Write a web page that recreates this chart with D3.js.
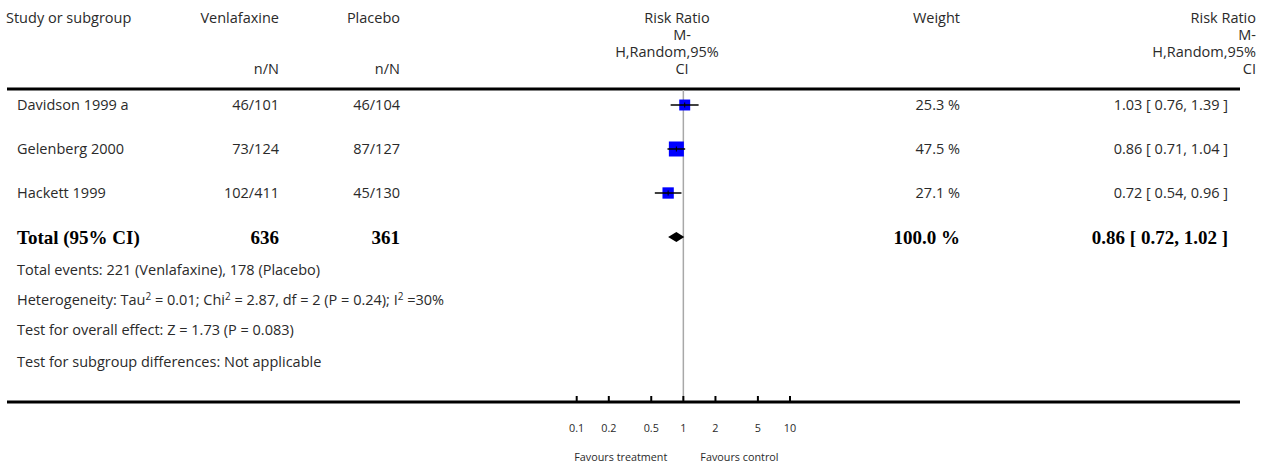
<!DOCTYPE html>
<html>
<head>
<meta charset="utf-8">
<script src="https://cdn.jsdelivr.net/npm/d3@7/dist/d3.min.js"></script>
<style>
  html, body { margin: 0; padding: 0; background: #fff; }
  svg { display: block; }
  .t { font-family: "Open Sans", Lato, sans-serif; font-size: 14.5px; fill: #2a2a2a; }
  .b { font-family: "Liberation Serif", "DejaVu Serif", serif; font-size: 19px; font-weight: bold; fill: #000; }
  .s { font-family: "Open Sans", Lato, sans-serif; font-size: 10.8px; fill: #2a2a2a; }
</style>
</head>
<body>
<script>
// Venlafaxine vs placebo: risk ratio forest plot (M-H, random effects)
const studies     = ["Davidson 1999 a", "Gelenberg 2000", "Hackett 1999"];
const treatEvents = [46, 73, 102];
const treatTotal  = [101, 124, 411];
const ctrlEvents  = [46, 87, 45];
const ctrlTotal   = [104, 127, 130];
const ratio       = [1.03, 0.86, 0.72];
const ciLow       = [0.76, 0.71, 0.54];
const ciHigh      = [1.39, 1.04, 0.96];
const weights     = [25.3, 47.5, 27.1];

const pooled      = { ratio: 0.86, low: 0.72, high: 1.02, weight: 100.0, treatN: 636, ctrlN: 361 };
const axisTicks   = [0.1, 0.2, 0.5, 1, 2, 5, 10];
const tickLabels  = ["0.1", "0.2", "0.5", "1", "2", "5", "10"];

const W = 1270, H = 472;
const svg = d3.select("body").append("svg").attr("width", W).attr("height", H);

// log scale for the ratio axis
const x = d3.scaleLog().domain([0.1, 10]).range([576.7, 790]);
// row positions
const rowY = d3.scalePoint().domain(d3.range(4)).range([105, 237]);
// square side proportional to sqrt(weight)
const side = d3.scaleSqrt().domain([0, 47.5]).range([0, 15]);

const colStudy = 17, colTreat = 279, colCtrl = 400, colWeight = 960, colRR = 1228;
const fmt2 = d3.format(".2f"), fmt1 = d3.format(".1f");

// ---- header ----
const hdr = svg.append("g").attr("class", "t");
hdr.append("text").attr("x", 6).attr("y", 23).text("Study or subgroup");
hdr.append("text").attr("x", colTreat).attr("y", 23).attr("text-anchor", "end").text("Venlafaxine");
hdr.append("text").attr("x", colCtrl).attr("y", 23).attr("text-anchor", "end").text("Placebo");
hdr.append("text").attr("x", colTreat).attr("y", 74).attr("text-anchor", "end").text("n/N");
hdr.append("text").attr("x", colCtrl).attr("y", 74).attr("text-anchor", "end").text("n/N");
const rrHead = ["Risk Ratio", "M-", "H,Random,95%", "CI"];
const rrShift = [0, 5, -10, 5];
rrHead.forEach((s, i) => {
  hdr.append("text").attr("x", 677 + rrShift[i]).attr("y", 23 + i * 17).attr("text-anchor", "middle").text(s);
  hdr.append("text").attr("x", 1256).attr("y", 23 + i * 17).attr("text-anchor", "end").text(s);
});
hdr.append("text").attr("x", colWeight).attr("y", 23).attr("text-anchor", "end").text("Weight");

// horizontal rules
svg.append("line").attr("x1", 7).attr("x2", 1240).attr("y1", 89).attr("y2", 89)
  .attr("stroke", "#000").attr("stroke-width", 3);
svg.append("line").attr("x1", 7).attr("x2", 1240).attr("y1", 402).attr("y2", 402)
  .attr("stroke", "#000").attr("stroke-width", 3);

// line of no effect
svg.append("line").attr("x1", x(1)).attr("x2", x(1)).attr("y1", 90).attr("y2", 400)
  .attr("stroke", "#a8a8a8").attr("stroke-width", 1.5);

// ---- study rows ----
const rows = svg.append("g").selectAll("g").data(studies).join("g")
  .attr("transform", (d, i) => `translate(0,${rowY(i)})`);

rows.append("text").attr("class", "t").attr("x", colStudy).attr("y", 5).text(d => d);
rows.append("text").attr("class", "t").attr("x", colTreat).attr("y", 5).attr("text-anchor", "end")
  .text((d, i) => `${treatEvents[i]}/${treatTotal[i]}`);
rows.append("text").attr("class", "t").attr("x", colCtrl).attr("y", 5).attr("text-anchor", "end")
  .text((d, i) => `${ctrlEvents[i]}/${ctrlTotal[i]}`);
rows.append("text").attr("class", "t").attr("x", colWeight).attr("y", 5).attr("text-anchor", "end")
  .text((d, i) => `${fmt1(weights[i])} %`);
rows.append("text").attr("class", "t").attr("x", colRR).attr("y", 5).attr("text-anchor", "end")
  .text((d, i) => `${fmt2(ratio[i])} [ ${fmt2(ciLow[i])}, ${fmt2(ciHigh[i])} ]`);

// boxes and confidence intervals
rows.append("rect")
  .attr("x", (d, i) => x(ratio[i]) - side(weights[i]) / 2)
  .attr("y", (d, i) => -side(weights[i]) / 2)
  .attr("width", (d, i) => side(weights[i]))
  .attr("height", (d, i) => side(weights[i]))
  .attr("fill", "#0000ff");
rows.append("line")
  .attr("x1", (d, i) => x(ciLow[i])).attr("x2", (d, i) => x(ciHigh[i]))
  .attr("y1", 0).attr("y2", 0).attr("stroke", "#000").attr("stroke-width", 1.5);
rows.append("line")
  .attr("x1", (d, i) => x(ratio[i])).attr("x2", (d, i) => x(ratio[i]))
  .attr("y1", -2.5).attr("y2", 2.5).attr("stroke", "#000").attr("stroke-width", 1);

// ---- pooled row ----
const ty = rowY(3);
const tot = svg.append("g").attr("class", "b");
tot.append("text").attr("x", colStudy).attr("y", ty + 7).text("Total (95% CI)");
tot.append("text").attr("x", colTreat).attr("y", ty + 7).attr("text-anchor", "end").text(pooled.treatN);
tot.append("text").attr("x", colCtrl).attr("y", ty + 7).attr("text-anchor", "end").text(pooled.ctrlN);
tot.append("text").attr("x", colWeight).attr("y", ty + 7).attr("text-anchor", "end").text(`${fmt1(pooled.weight)} %`);
tot.append("text").attr("x", colRR).attr("y", ty + 7).attr("text-anchor", "end")
  .text(`${fmt2(pooled.ratio)} [ ${fmt2(pooled.low)}, ${fmt2(pooled.high)} ]`);

svg.append("path")
  .attr("d", d3.line()([
    [x(pooled.low), ty], [x(pooled.ratio), ty - 5], [x(pooled.high), ty], [x(pooled.ratio), ty + 5]
  ]) + "Z")
  .attr("fill", "#000");

// ---- footnotes ----
const notes = svg.append("g").attr("class", "t");
notes.append("text").attr("x", colStudy).attr("y", 275).text("Total events: 221 (Venlafaxine), 178 (Placebo)");
const het = notes.append("text").attr("x", colStudy).attr("y", 305);
const sup = s => het.append("tspan").attr("font-size", "10px").attr("dy", -5).text(s);
const norm = s => het.append("tspan").attr("dy", 5).text(s);
het.append("tspan").text("Heterogeneity: Tau");
sup("2"); norm(" = 0.01; Chi");
sup("2"); norm(" = 2.87, df = 2 (P = 0.24); I");
sup("2"); norm(" =30%");
notes.append("text").attr("x", colStudy).attr("y", 335).text("Test for overall effect: Z = 1.73 (P = 0.083)");
notes.append("text").attr("x", colStudy).attr("y", 367).text("Test for subgroup differences: Not applicable");

// ---- axis ----
const ax = svg.append("g");
ax.selectAll("line.tick").data(axisTicks).join("line")
  .attr("x1", d => x(d)).attr("x2", d => x(d)).attr("y1", 396).attr("y2", 401)
  .attr("stroke", "#000").attr("stroke-width", 2);
ax.selectAll("text").data(axisTicks).join("text")
  .attr("class", "s").attr("x", d => x(d)).attr("y", 432).attr("text-anchor", "middle")
  .text((d, i) => tickLabels[i]);
svg.append("text").attr("class", "s").attr("x", x(1) - 16).attr("y", 461).attr("text-anchor", "end").text("Favours treatment");
svg.append("text").attr("class", "s").attr("x", x(1) + 17).attr("y", 461).text("Favours control");
</script>
</body>
</html>
